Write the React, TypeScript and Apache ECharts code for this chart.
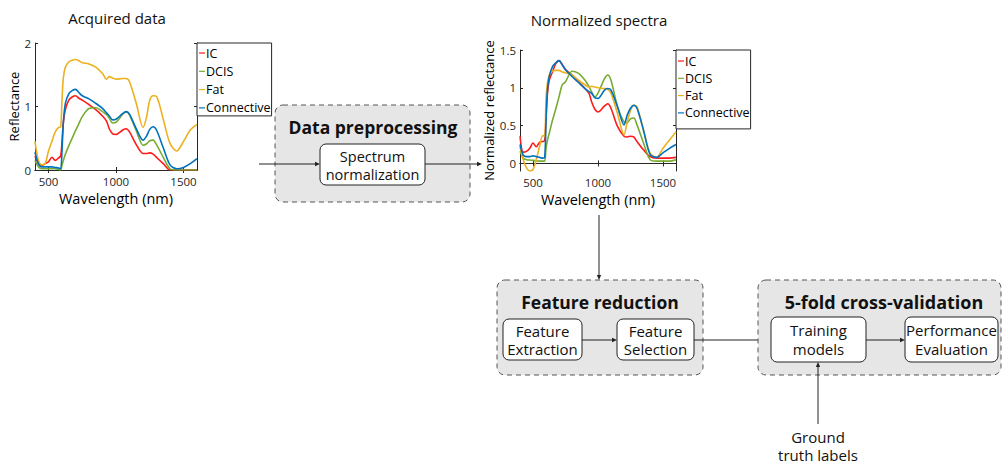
import React, { useEffect, useRef } from "react";
import * as echarts from "echarts";

const seriesNames = ["IC", "DCIS", "Fat", "Connective"];
const seriesColors = ["#ff1a1a", "#77ac30", "#edb120", "#0072bd"];

const wavelengths = [400, 425, 450, 475, 500, 525, 550, 575, 590, 600, 610, 625, 650, 675, 700, 725, 750, 800, 850, 900, 930, 950, 975, 1000, 1050, 1075, 1100, 1150, 1200, 1225, 1250, 1275, 1300, 1350, 1400, 1450, 1500, 1550, 1600];

// Acquired data (reflectance)
const acqIC = [0.22, 0.1, 0.07, 0.1, 0.13, 0.2, 0.15, 0.19, 0.22, 0.45, 0.75, 0.95, 1.1, 1.15, 1.17, 1.13, 1.1, 1.03, 0.95, 0.85, 0.77, 0.65, 0.57, 0.56, 0.63, 0.65, 0.6, 0.4, 0.26, 0.26, 0.27, 0.25, 0.2, 0.1, 0.0, 0.0, 0.0, 0.0, 0.0];
const acqDCIS = [0.15, 0.05, 0.02, 0.02, 0.02, 0.02, 0.02, 0.01, 0.0, 0.08, 0.15, 0.25, 0.38, 0.5, 0.62, 0.73, 0.84, 0.97, 0.98, 0.92, 0.87, 0.82, 0.74, 0.75, 0.88, 0.92, 0.87, 0.62, 0.39, 0.41, 0.46, 0.47, 0.4, 0.2, 0.02, 0.0, 0.0, 0.0, 0.0];
const acqFat = [0.45, 0.15, 0.08, 0.1, 0.3, 0.45, 0.6, 0.67, 0.68, 1.1, 1.45, 1.62, 1.7, 1.73, 1.74, 1.72, 1.69, 1.67, 1.62, 1.52, 1.43, 1.47, 1.45, 1.43, 1.44, 1.44, 1.39, 1.05, 0.67, 0.82, 1.1, 1.17, 1.16, 0.8, 0.42, 0.3, 0.45, 0.63, 0.72];
const acqConnective = [0.28, 0.1, 0.05, 0.05, 0.05, 0.05, 0.04, 0.03, 0.02, 0.3, 0.75, 1.05, 1.2, 1.25, 1.27, 1.22, 1.17, 1.12, 1.05, 0.97, 0.9, 0.85, 0.79, 0.8, 0.89, 0.92, 0.88, 0.65, 0.47, 0.53, 0.64, 0.68, 0.63, 0.35, 0.08, 0.02, 0.04, 0.1, 0.18];

// Normalized spectra
const normIC = [0.36, 0.15, 0.16, 0.2, 0.27, 0.22, 0.28, 0.29, 0.3, 0.6, 0.9, 1.1, 1.21, 1.32, 1.36, 1.31, 1.24, 1.17, 1.08, 0.99, 0.93, 0.82, 0.72, 0.68, 0.76, 0.79, 0.73, 0.49, 0.36, 0.35, 0.36, 0.35, 0.29, 0.18, 0.09, 0.07, 0.07, 0.07, 0.08];
const normDCIS = [0.16, 0.07, 0.05, 0.045, 0.04, 0.035, 0.03, 0.03, 0.03, 0.2, 0.3, 0.4, 0.57, 0.72, 0.88, 1.04, 1.08, 1.22, 1.19, 1.1, 1.02, 0.95, 0.88, 0.93, 1.12, 1.17, 1.1, 0.75, 0.55, 0.54, 0.59, 0.6, 0.51, 0.27, 0.05, 0.03, 0.03, 0.03, 0.05];
const normFat = [0.22, 0.05, -0.06, -0.1, -0.08, 0.05, 0.22, 0.37, 0.36, 0.85, 1.05, 1.17, 1.22, 1.23, 1.23, 1.21, 1.2, 1.17, 1.1, 1.04, 1.01, 1.02, 1.01, 1.0, 0.99, 0.98, 0.93, 0.66, 0.38, 0.55, 0.7, 0.77, 0.75, 0.44, 0.14, 0.08, 0.2, 0.31, 0.42];
const normConnective = [0.25, 0.11, 0.09, 0.09, 0.1, 0.09, 0.08, 0.07, 0.08, 0.55, 0.95, 1.15, 1.28, 1.33, 1.36, 1.3, 1.24, 1.15, 1.07, 0.99, 0.95, 0.93, 0.87, 0.86, 0.97, 0.99, 0.97, 0.75, 0.51, 0.64, 0.73, 0.77, 0.73, 0.44, 0.12, 0.08, 0.14, 0.2, 0.25];

const xTicks = [500, 1000, 1500];
const y1Ticks = [0, 1, 2];
const y2Ticks = [0, 0.5, 1, 1.5];

const FONT = "Open Sans";
const AX = "#262626";

function App() {
  const ref = useRef<HTMLDivElement>(null);
  useEffect(() => {
    if (!ref.current) return;
    const chart = echarts.init(ref.current, undefined, { renderer: "svg" });

    const pair = (vals: number[]) => wavelengths.map((w, i) => [w, vals[i]]);
    const acq = [acqIC, acqDCIS, acqFat, acqConnective];
    const norm = [normIC, normDCIS, normFat, normConnective];
    const fmt = (v: number) => String(v);

    const mkX = (gi: number, bottom: boolean) => ({
      type: "value",
      gridIndex: gi,
      min: 400,
      max: 1600,
      position: bottom ? "bottom" : "top",
      name: bottom ? "Wavelength (nm)" : "",
      nameLocation: "middle",
      nameGap: 21,
      nameTextStyle: { fontFamily: FONT, fontSize: 14.5, color: "#000" },
      axisLine: { show: true, lineStyle: { color: AX, width: 1 } },
      axisTick: { show: true, inside: true, length: 3, customValues: xTicks, lineStyle: { color: AX } },
      axisLabel: { show: bottom, customValues: xTicks, formatter: fmt, fontFamily: FONT, fontSize: 11.5, color: AX, margin: 5 },
      splitLine: { show: false },
    });
    const mkY = (gi: number, left: boolean, min: number, max: number, ticks: number[], name: string, gap: number) => ({
      type: "value",
      gridIndex: gi,
      min,
      max,
      position: left ? "left" : "right",
      name: left ? name : "",
      nameLocation: "middle",
      nameGap: gap,
      nameTextStyle: { fontFamily: FONT, fontSize: 13, color: "#000" },
      axisLine: { show: true, onZero: false, lineStyle: { color: AX, width: 1 } },
      axisTick: { show: true, inside: true, length: 3, customValues: ticks, lineStyle: { color: AX } },
      axisLabel: { show: left, customValues: ticks, formatter: fmt, fontFamily: FONT, fontSize: 11.5, color: AX, margin: 4 },
      splitLine: { show: false },
    });

    const series: any[] = [];
    acq.forEach((vals, i) =>
      series.push({
        type: "line",
        name: seriesNames[i],
        xAxisIndex: 0,
        yAxisIndex: 0,
        data: pair(vals),
        showSymbol: false,
        smooth: 0.3,
        lineStyle: { color: seriesColors[i], width: 1.6 },
        itemStyle: { color: seriesColors[i] },
        clip: true,
      })
    );
    norm.forEach((vals, i) =>
      series.push({
        type: "line",
        name: seriesNames[i],
        xAxisIndex: 2,
        yAxisIndex: 2,
        data: pair(vals),
        showSymbol: false,
        smooth: 0.3,
        lineStyle: { color: seriesColors[i], width: 1.6 },
        itemStyle: { color: seriesColors[i] },
        clip: true,
      })
    );

    const legendBase = {
      data: seriesNames,
      orient: "vertical",
      icon: "rect",
      itemWidth: 6,
      itemHeight: 1.2,
      borderColor: AX,
      borderWidth: 1,
      backgroundColor: "#fff",
      textStyle: { fontFamily: FONT, fontSize: 12.5, color: "#000", lineHeight: 14, padding: [0, 0, 0, -4] },
      selectedMode: false,
    };

    const arrowLine = (x1: number, y1: number, x2: number, y2: number) => ({
      type: "line",
      shape: { x1, y1, x2, y2 },
      style: { stroke: "#222", lineWidth: 1 },
    });
    const head = (x: number, y: number, dir: string) => {
      let pts: number[][];
      const L = 5, W = 2.2;
      if (dir === "right") pts = [[x, y], [x - L, y - W], [x - L, y + W]];
      else if (dir === "down") pts = [[x, y], [x - W, y - L], [x + W, y - L]];
      else pts = [[x, y], [x - W, y + L], [x + W, y + L]];
      return { type: "polygon", shape: { points: pts }, style: { fill: "#222" } };
    };
    const outerBox = (x: number, y: number, w: number, h: number) => ({
      type: "rect",
      shape: { x, y, width: w, height: h, r: 8 },
      style: { fill: "#e6e6e6", stroke: "#555", lineWidth: 1, lineDash: [5, 4] },
    });
    const innerBox = (x: number, y: number, w: number, h: number) => ({
      type: "rect",
      shape: { x, y, width: w, height: h, r: 6 },
      style: { fill: "#fff", stroke: "#222", lineWidth: 1 },
    });
    const txt = (x: number, y: number, text: string, size: number, bold = false, lh = 18) => ({
      type: "text",
      x,
      y,
      style: {
        text,
        fill: "#111",
        font: `${bold ? "bold " : ""}${size}px "${FONT}"`,
        lineHeight: lh,
        align: "center",
        verticalAlign: "middle",
      },
    });

    chart.setOption({
      animation: false,
      backgroundColor: "#fff",
      grid: [
        { left: 35, top: 43, width: 162, height: 127, show: false },
        { left: 520, top: 50, width: 156, height: 121, show: false },
      ],
      xAxis: [mkX(0, true), mkX(0, false), mkX(1, true), mkX(1, false)],
      yAxis: [
        mkY(0, true, 0, 2, y1Ticks, "Reflectance", 10),
        mkY(0, false, 0, 2, y1Ticks, "", 0),
        mkY(1, true, -0.1, 1.5, y2Ticks, "Normalized reflectance", 20),
        mkY(1, false, -0.1, 1.5, y2Ticks, "", 0),
      ],
      legend: [
        { ...legendBase, left: 197, top: 43, itemGap: 4.3, padding: [3, 1, 1, 2] },
        { ...legendBase, left: 676, top: 50, itemGap: 3.3, padding: [4, 1, 9, 2] },
      ],
      series,
      graphic: [
        txt(117, 18, "Acquired data", 15),
        txt(599, 20, "Normalized spectra", 15),
        // Data preprocessing
        outerBox(275, 105, 195, 97),
        txt(373, 127, "Data preprocessing", 17.5, true),
        innerBox(320, 144, 105, 41),
        txt(372.5, 165.5, "Spectrum\nnormalization", 14.5, false, 18),
        arrowLine(259, 164, 316, 164),
        head(320, 164, "right"),
        arrowLine(425, 164, 478, 164),
        head(482, 164, "right"),
        // vertical arrow
        arrowLine(599, 215, 599, 276),
        head(599, 280, "down"),
        // Feature reduction
        outerBox(497, 280, 206, 95),
        txt(600, 302, "Feature reduction", 17.5, true),
        innerBox(503, 319, 79, 41),
        txt(542.5, 340, "Feature\nExtraction", 15),
        innerBox(617, 319, 77, 41),
        txt(655.5, 340, "Feature\nSelection", 15),
        arrowLine(582, 340, 613, 340),
        head(617, 340, "right"),
        arrowLine(694, 340, 767, 340),
        head(771, 340, "right"),
        // 5-fold
        outerBox(758, 280, 243, 95),
        txt(884, 302, "5-fold cross-validation", 18, true),
        innerBox(771, 317, 95, 45),
        txt(818.5, 339.5, "Training\nmodels", 15, false, 19),
        innerBox(905, 317, 93, 45),
        txt(951.5, 339.5, "Performance\nEvaluation", 15, false, 19),
        arrowLine(866, 340, 901, 340),
        head(905, 340, "right"),
        arrowLine(818, 424, 818, 366),
        head(818, 362, "up"),
        txt(818, 446, "Ground\ntruth labels", 15),
      ],
    });
    return () => chart.dispose();
  }, []);
  return (
    <div
      ref={ref}
      style={{ position: "absolute", left: 0, top: 0, width: 1003, height: 464 }}
    />
  );
}

export default App;
